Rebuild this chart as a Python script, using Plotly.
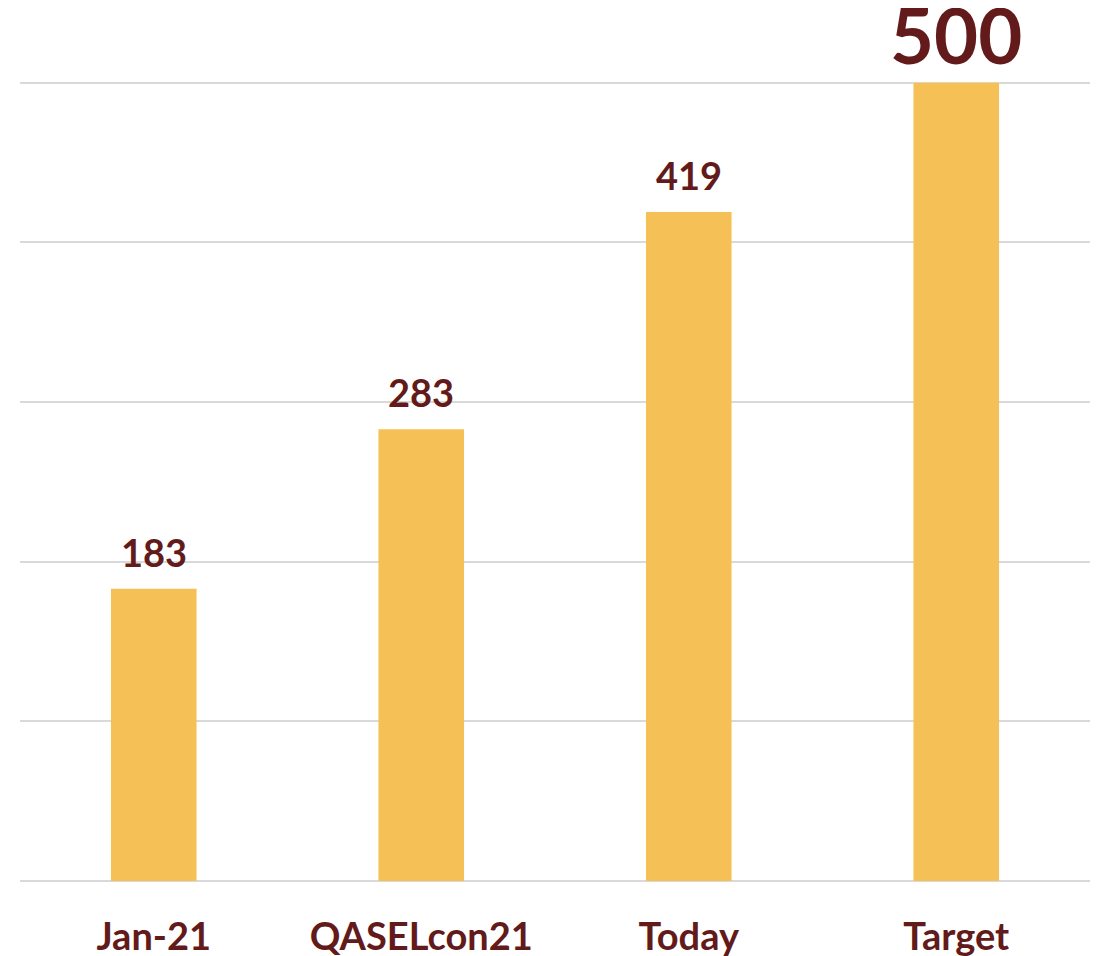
import plotly.graph_objects as go

categories = ["Jan-21", "QASELcon21", "Today", "Target"]
values = [183, 283, 419, 500]
label_sizes = [38, 38, 38, 76]

BAR = "#F5C156"
TXT = "#621A1A"
FONT = "Lato"

fig = go.Figure()
fig.add_trace(go.Bar(
    x=categories, y=values,
    marker=dict(color=BAR, line=dict(width=0)),
    width=0.32,
    hoverinfo="skip",
))

for c, v, s in zip(categories, values, label_sizes):
    fig.add_annotation(
        x=c, y=v, xref="x", yref="y",
        text=f"<b>{v}</b>", showarrow=False,
        yanchor="bottom", yshift=12 if s < 50 else 1,
        font=dict(family=FONT, size=s, color=TXT),
    )

# page body has an 8px default margin; margins below compensate for it
fig.update_layout(
    width=1102, height=956,
    margin=dict(l=12, r=20, t=70, b=83, autoexpand=False),
    paper_bgcolor="white", plot_bgcolor="white",
    showlegend=False,
    font=dict(family=FONT, color=TXT),
    xaxis=dict(
        automargin=False,
        showgrid=False, showline=False, zeroline=False, ticks="",
        tickfont=dict(family=FONT, size=38, color=TXT),
        ticklabelstandoff=30,
        tickprefix="<b>", ticksuffix="</b>",
    ),
    yaxis=dict(
        automargin=False,
        range=[0, 503], tickvals=[0, 100, 200, 300, 400, 500],
        showgrid=True, gridcolor="#D9D9D9", gridwidth=1.5,
        zeroline=True, zerolinecolor="#D9D9D9", zerolinewidth=2,
        showticklabels=False, ticks="",
    ),
)

fig.write_html("out.html")
